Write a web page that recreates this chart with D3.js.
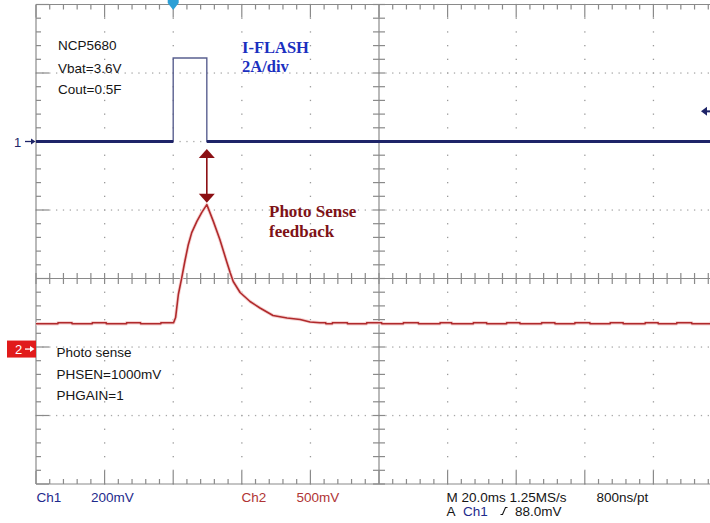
<!DOCTYPE html>
<html><head><meta charset="utf-8">
<script src="https://cdn.jsdelivr.net/npm/d3@7"></script>
<style>html,body{margin:0;padding:0;background:#fff;overflow:hidden}svg{display:block}</style>
</head><body>
<svg id="c" width="710" height="523"></svg>
<script>
// ---------- data ----------
const timeDomain = [-40, 160];      // ms, 20 ms/div, trigger at t=0
const divDomain = [-3, 4];          // vertical divisions visible
const timeTicks = d3.range(-40, 161, 20);
const divTicks = d3.range(-3, 5, 1);
const ch1Position = 2;              // div
const ch1AmpPerDiv = 2;             // I-FLASH 2A/div
const ch1VoltPerDiv = 200;          // mV/div
const triggerLevel = 88;            // mV
const ch2Position = -1.03;          // div
const ch2VoltPerDiv = 500;          // mV/div

// I-FLASH current (A)
const iflashT = [-40, 0, 0, 9.8, 9.8, 160];
const iflashA = [0, 0, 2.44, 2.44, 0, 0];

// Photo sense (ms, mV)
const photoSense = [
  [-40,185],[-33.6,185],[-33.6,192],[-29.5,192],[-29.5,185],[-23.6,185],[-23.6,192],[-19.5,192],
  [-19.5,185],[-13.6,185],[-13.6,192],[-9.5,192],[-9.5,185],[-3.6,185],[-3.6,192],[0.1,192],
  [0.7,230],[1.5,398],[2.5,522],[3.4,641],[4.4,762],[5.4,850],[6.9,932],[8.3,996],[9.8,1054],
  [11.7,932],[13.6,799],[15.6,638],[16.6,558],[17.5,493],[19.5,413],[22.4,347],[25.3,300],
  [29.1,245],[33.2,227],[37.0,216],[39.9,198],[42.8,192],
  [44.5,192],[44.5,185],[46.4,185],[46.4,192],[50.8,192],[50.8,185],[56.4,185],[56.4,192],
  [60.8,192],[60.8,185],[67.1,185],[67.1,192],[71.5,192],[71.5,185],[77.8,185],[77.8,192],
  [81.2,192],[81.2,185],[87.5,185],[87.5,192],[91.4,192],[91.4,185],[97.2,185],[97.2,192],
  [101.1,192],[101.1,185],[107.4,185],[107.4,192],[111.3,192],[111.3,185],[117.1,185],[117.1,192],
  [121.5,192],[121.5,185],[127.4,185],[127.4,192],[131.2,192],[131.2,185],[137.6,185],[137.6,192],
  [141.4,192],[141.4,185],[146.8,185],[146.8,192],[151.2,192],[151.2,185],[156.8,185],[156.8,192],[160,192]
];

const boardText = ["NCP5680", "Vbat=3.6V", "Cout=0.5F"];
const ch2Text = ["Photo sense", "PHSEN=1000mV", "PHGAIN=1"];
const iflashLabel = ["I-FLASH", "2A/div"];
const photoLabel = ["Photo Sense", "feedback"];

// ---------- drawing ----------
const svg = d3.select("#c");
const x = d3.scaleLinear().domain(timeDomain).range([36, 722]);
const y = d3.scaleLinear().domain(divDomain).range([484, 4.5]);
const gridCol = "#8a8a8a";
const sans = "'Liberation Sans', Arial, sans-serif";
const serif = "'Liberation Serif', 'Times New Roman', serif";

// dotted grid
const gGrid = svg.append("g");
const centerT = 60;
timeTicks.filter(t => t > -40 && t !== centerT).forEach(t => {
  d3.range(divDomain[0], divDomain[1] + 0.001, 0.2).forEach(d => {
    gGrid.append("rect").attr("x", x(t) - 0.6).attr("y", y(d) - 0.6)
      .attr("width", 1.3).attr("height", 1.3).attr("fill", "#9a9a9a");
  });
});
divTicks.filter(d => d > -3 && d < 4 && d !== 0).forEach(d => {
  d3.range(timeDomain[0], timeDomain[1] + 0.001, 2).forEach(t => {
    gGrid.append("rect").attr("x", x(t) - 0.6).attr("y", y(d) - 0.6)
      .attr("width", 1.3).attr("height", 1.3).attr("fill", "#a8a8a8");
  });
});

// borders & center axes
const gAx = svg.append("g").attr("stroke", gridCol).attr("stroke-width", 1.2);
gAx.append("line").attr("x1", x(-40)).attr("x2", x(-40)).attr("y1", y(4)).attr("y2", y(-3));
gAx.append("line").attr("x1", x(-40)).attr("x2", x(160)).attr("y1", y(4)).attr("y2", y(4));
gAx.append("line").attr("x1", x(-40)).attr("x2", x(160)).attr("y1", y(-3)).attr("y2", y(-3));
gAx.append("line").attr("x1", x(centerT)).attr("x2", x(centerT)).attr("y1", y(4)).attr("y2", y(-3));
gAx.append("line").attr("x1", x(-40)).attr("x2", x(160)).attr("y1", y(0)).attr("y2", y(0));

// ticks
const minorT = d3.range(-40, 160.001, 4);
const minorD = d3.range(-3, 4.001, 0.2);
const isMajorT = t => Math.abs(((t + 40) % 20)) < 0.01;
const isMajorD = d => Math.abs(d - Math.round(d)) < 0.01;
minorT.forEach(t => {
  const L = isMajorT(t) ? 13 : 5;
  gAx.append("line").attr("x1", x(t)).attr("x2", x(t)).attr("y1", y(4)).attr("y2", y(4) + L);
  gAx.append("line").attr("x1", x(t)).attr("x2", x(t)).attr("y1", y(-3)).attr("y2", y(-3) - L);
  gAx.append("line").attr("x1", x(t)).attr("x2", x(t)).attr("y1", y(0) - 5.5).attr("y2", y(0) + 5.5);
});
minorD.forEach(d => {
  const L = isMajorD(d) ? 13 : 5;
  gAx.append("line").attr("x1", x(-40)).attr("x2", x(-40) + L).attr("y1", y(d)).attr("y2", y(d));
  gAx.append("line").attr("x1", x(centerT) - 6).attr("x2", x(centerT) + 6).attr("y1", y(d)).attr("y2", y(d));
});

// traces
const yCh1 = a => y(ch1Position + a / ch1AmpPerDiv);
const yCh2 = mv => y(ch2Position + mv / ch2VoltPerDiv);
const iflash = iflashT.map((t, i) => [t, iflashA[i]]);
const lineI = d3.line().x(d => x(d[0])).y(d => yCh1(d[1]));
svg.append("path").attr("d", lineI(iflash)).attr("fill", "none")
  .attr("stroke", "#5a6090").attr("stroke-width", 1.4);
svg.append("path").attr("d", lineI.defined(d => d[1] === 0)(iflash)).attr("fill", "none")
  .attr("stroke", "#1e2468").attr("stroke-width", 3);

const lineP = d3.line().x(d => x(d[0])).y(d => yCh2(d[1]));
svg.append("path").attr("d", lineP(photoSense)).attr("fill", "none")
  .attr("stroke", "#f6d4d4").attr("stroke-width", 3.4).attr("stroke-linejoin", "round");
svg.append("path").attr("d", lineP(photoSense)).attr("fill", "none")
  .attr("stroke", "#b02a2c").attr("stroke-width", 1.6).attr("stroke-linejoin", "round");

// double arrow between pulse end and photo peak
const peak = photoSense.reduce((a, b) => b[1] > a[1] ? b : a);
const ax = x(peak[0]);
const aTop = yCh1(0) + 7.5, aBot = yCh2(peak[1]) - 2;
const arrowCol = "#8c1014";
svg.append("line").attr("x1", ax).attr("x2", ax).attr("y1", aTop + 6).attr("y2", aBot - 6)
  .attr("stroke", arrowCol).attr("stroke-width", 1.6);
svg.append("path").attr("fill", arrowCol)
  .attr("d", `M${ax},${aTop} L${ax - 8},${aTop + 9} L${ax + 8},${aTop + 9} Z`);
svg.append("path").attr("fill", arrowCol)
  .attr("d", `M${ax},${aBot} L${ax - 8},${aBot - 9} L${ax + 8},${aBot - 9} Z`);

// trigger position marker (top)
const tx = x(0);
svg.append("path").attr("fill", "#2b9fd6")
  .attr("d", `M${tx - 5.5},0 L${tx + 5.5},0 L${tx + 5.5},3 L${tx},10 L${tx - 5.5},3 Z`);
// trigger level marker (right)
const ty = y(ch1Position + triggerLevel / ch1VoltPerDiv);
svg.append("path").attr("fill", "#1e2468")
  .attr("d", `M701,${ty} L707,${ty - 4.5} L707,${ty + 4.5} Z`);
svg.append("line").attr("x1", 705).attr("x2", 710).attr("y1", ty).attr("y2", ty)
  .attr("stroke", "#1e2468").attr("stroke-width", 2);

// channel 1 ground marker
const g1 = yCh1(0);
svg.append("text").attr("x", 14).attr("y", g1 + 5).text("1")
  .attr("font-family", sans).attr("font-size", 13).attr("fill", "#1e2468");
svg.append("line").attr("x1", 25).attr("x2", 32).attr("y1", g1).attr("y2", g1)
  .attr("stroke", "#1e2468").attr("stroke-width", 1.3);
svg.append("path").attr("fill", "#1e2468").attr("d", `M35.5,${g1} L31,${g1 - 3} L31,${g1 + 3} Z`);

// channel 2 ground marker
const g2 = yCh2(0);
svg.append("rect").attr("x", 7).attr("y", g2 - 8.5).attr("width", 29).attr("height", 17).attr("fill", "#e11b1b");
svg.append("text").attr("x", 15).attr("y", g2 + 5).text("2")
  .attr("font-family", sans).attr("font-size", 13).attr("fill", "#fff");
svg.append("line").attr("x1", 25).attr("x2", 31).attr("y1", g2).attr("y2", g2)
  .attr("stroke", "#fff").attr("stroke-width", 1.3);
svg.append("path").attr("fill", "#fff").attr("d", `M34.5,${g2} L30,${g2 - 3} L30,${g2 + 3} Z`);

// annotation texts
const txt = (s, X, Y, opt = {}) => svg.append("text").attr("x", X).attr("y", Y).text(s)
  .attr("font-family", opt.family || sans).attr("font-size", opt.size || 13.5)
  .attr("font-weight", opt.weight || "normal").attr("fill", opt.fill || "#151515");

boardText.forEach((s, i) => txt(s, 58, [50, 72.5, 94][i]));
ch2Text.forEach((s, i) => txt(s, 56.5, [357, 379, 399.5][i]));
iflashLabel.forEach((s, i) => txt(s, 242, [52.5, 72][i], {family: serif, size: 16.5, weight: "bold", fill: "#1b2fbf"}));
photoLabel.forEach((s, i) => txt(s, 269, [216.5, 237][i], {family: serif, size: 17, weight: "bold", fill: "#7e1216"}));

// status bar
const blue = "#1e2a8c", red = "#b03434";
txt("Ch1", 36.5, 501.5, {fill: blue});
txt("200mV", 91, 501.5, {fill: blue});
txt("Ch2", 241.5, 501.5, {fill: red});
txt("500mV", 296.5, 501.5, {fill: red});
txt("M 20.0ms 1.25MS/s", 446.5, 501.5);
txt("800ns/pt", 596.5, 501.5);
txt("A", 446.5, 515.5);
txt("Ch1", 463, 515.5, {fill: blue});
svg.append("path").attr("fill", "none").attr("stroke", "#151515").attr("stroke-width", 1.1)
  .attr("d", "M500.5,514.5 L502.5,514.5 L505.5,507.5 L507.5,507.5");
txt("88.0mV", 515, 515.5);
</script>
</body></html>
